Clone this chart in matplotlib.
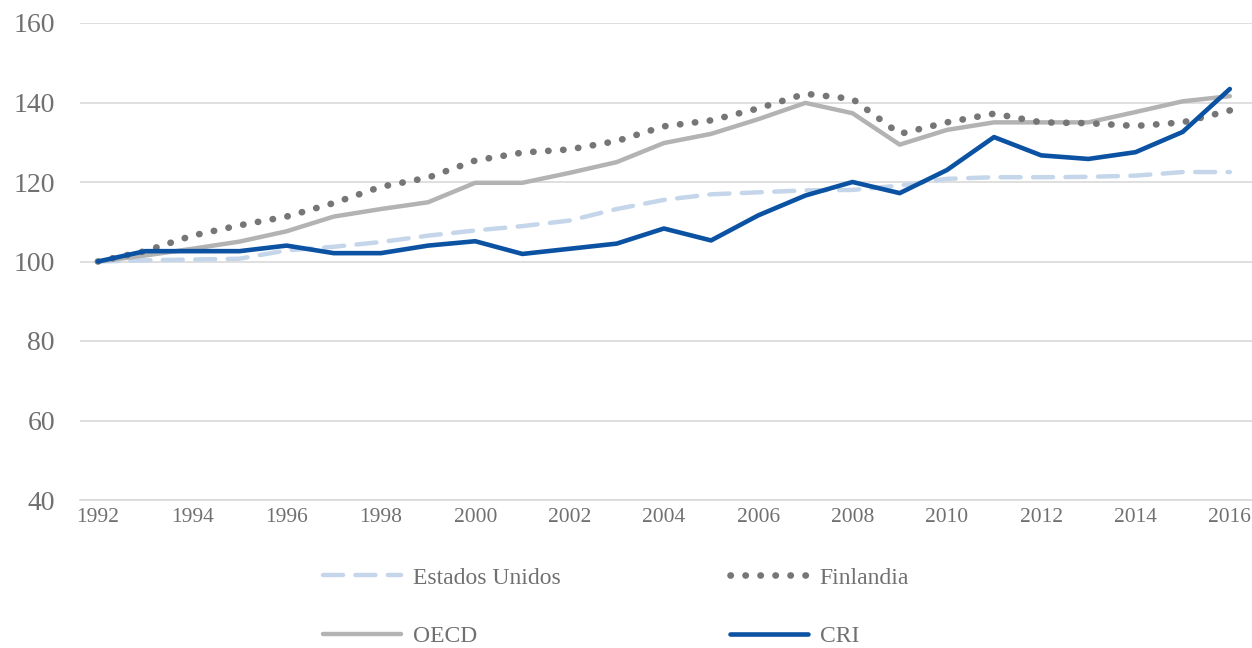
import matplotlib
matplotlib.use("Agg")
import matplotlib.pyplot as plt
from matplotlib.lines import Line2D

# Data.
years = list(range(1992, 2017))
estados_unidos = [100, 100.3, 100.5, 100.7, 102.8, 103.7, 104.9, 106.5, 107.8, 108.9,
                  110.3, 113.2, 115.5, 116.9, 117.4, 117.9, 118.0, 119.1, 120.8, 121.2,
                  121.2, 121.3, 121.6, 122.5, 122.5]
finlandia = [100, 102.6, 106.5, 109.1, 111.3, 114.7, 118.8, 121.1, 125.4, 127.4,
             128.2, 130.3, 134.0, 135.5, 138.5, 142.2, 140.9, 132.1, 135.0, 137.2,
             135.0, 134.8, 134.1, 135.0, 138.0]
oecd = [100, 101.5, 103.2, 105.0, 107.6, 111.3, 113.2, 114.9, 119.8, 119.8,
        122.3, 125.0, 129.8, 132.1, 135.8, 139.9, 137.3, 129.4, 133.1, 135.0,
        135.0, 135.0, 137.6, 140.3, 141.6]
cri = [100, 102.6, 102.6, 102.6, 104.0, 102.1, 102.1, 104.0, 105.1, 101.9,
       103.2, 104.5, 108.3, 105.3, 111.6, 116.6, 120.0, 117.2, 123.0, 131.3,
       126.7, 125.8, 127.5, 132.6, 143.4]
xticks = list(range(1992, 2017, 2))
yticks = [40, 60, 80, 100, 120, 140, 160]

txt = "#707070"
plt.rcParams["font.family"] = ["Liberation Serif", "DejaVu Serif"]

fig = plt.figure(figsize=(12.52, 6.48), dpi=100)
ax = fig.add_axes([80 / 1252, 1 - 500 / 648, 1 - 80 / 1252, (500 - 23) / 648])

dash_us = (0, (4.5, 2.8))
dot_fin = (0, (0.05, 2.2))

l_us, = ax.plot(years, estados_unidos, color="#c5d6eb", lw=3.2,
                linestyle=dash_us, dash_capstyle="round", label="Estados Unidos")
l_oecd, = ax.plot(years, oecd, color="#b3b3b3", lw=3.2, label="OECD",
                  solid_capstyle="round")
l_fin, = ax.plot(years, finlandia, color="#767676", lw=4.8,
                 linestyle=dot_fin, dash_capstyle="round", label="Finlandia")
l_cri, = ax.plot(years, cri, color="#0b52a3", lw=3.3, label="CRI",
                 solid_capstyle="round")

ax.set_xlim(1991.62, 2016.47)
ax.set_ylim(40, 160)
ax.set_yticks(yticks)
ax.set_xticks(xticks)
ax.yaxis.grid(True, color="#d9d9d9", lw=1.2)
ax.set_axisbelow(True)
for s in ["top", "right", "left"]:
    ax.spines[s].set_visible(False)
ax.spines["bottom"].set_color("#d9d9d9")
ax.spines["bottom"].set_linewidth(1.2)
ax.tick_params(axis="y", length=0, pad=18, labelsize=20, labelcolor=txt)
ax.tick_params(axis="x", length=0, pad=6, labelsize=15.5, labelcolor=txt)

# Legend in two columns, placed by hand.
styles = {"Estados Unidos": dash_us, "OECD": "-", "Finlandia": dot_fin, "CRI": "-"}
for hs, x0 in [([l_us, l_oecd], 323), ([l_fin, l_cri], 730)]:
    hl = [Line2D([], [], color=h.get_color(), lw=h.get_linewidth(),
                 linestyle=styles[h.get_label()],
                 dash_capstyle="round", solid_capstyle="round") for h in hs]
    fig.legend(hl, [h.get_label() for h in hs], loc="center left",
               bbox_to_anchor=(x0 / 1252, 1 - 607 / 648), frameon=False,
               fontsize=17, labelcolor=txt, borderpad=0, borderaxespad=0,
               handlelength=3.3, handletextpad=0.5, labelspacing=1.55)

fig.savefig("out.png", dpi=100)
